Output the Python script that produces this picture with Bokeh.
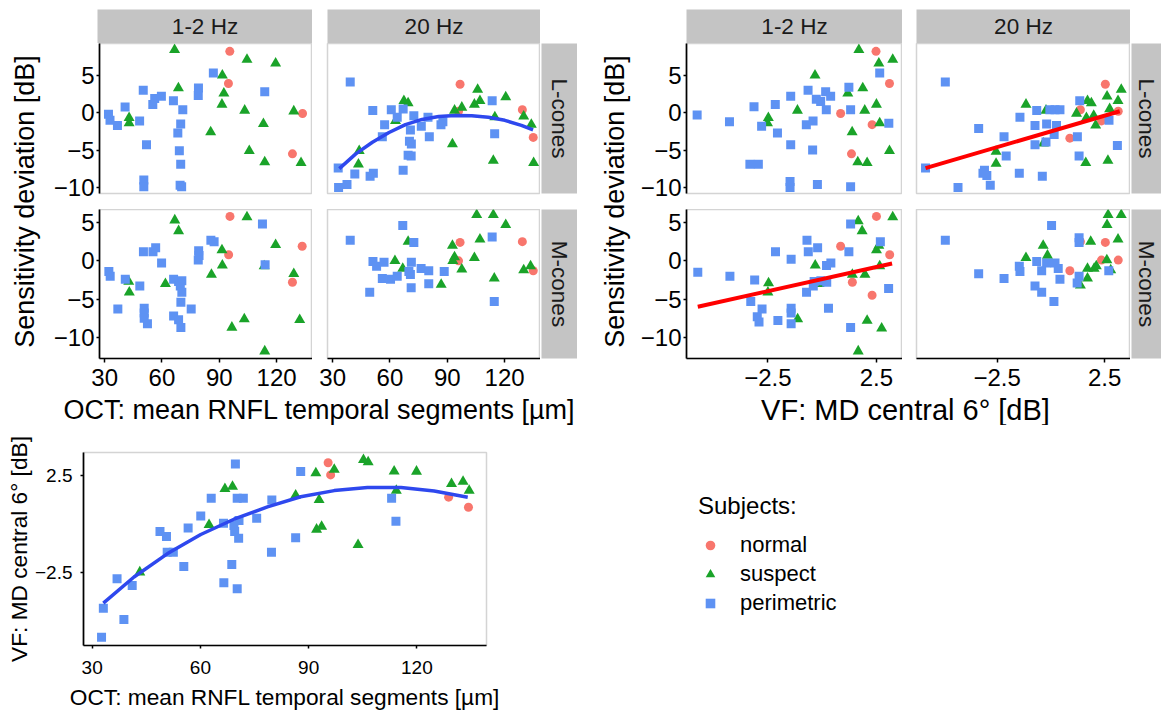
import numpy as np
from bokeh.plotting import figure
from bokeh.layouts import row, column
from bokeh.models import Range1d, FixedTicker, Spacer, Legend, LegendItem
from bokeh.core.properties import value
from bokeh.embed import file_html
from bokeh.resources import INLINE

# ---------------- data ----------------
GROUPS = ["normal", "suspect", "perimetric"]

# OCT (RNFL, µm) vs sensitivity deviation, L-cones 1-2 Hz
oct_L_12 = {
    "normal": ([95.5, 94.8, 133.6, 128.3], [8.2, 3.9, -0.1, -5.5]),
    "suspect": ([66.6, 68.6, 42.8, 42.8, 85.5, 91.6, 92.4, 91.4, 104.5, 119.5, 103.3, 113.1, 105.7, 113.8, 129.0, 132.8],
                [8.4, 3.3, -0.7, -1.4, -2.6, 5.0, 2.6, 1.1, 7.1, 6.6, 0.3, -1.5, -5.1, -6.6, 0.2, -6.7]),
    "perimetric": ([32.0, 32.8, 36.7, 40.7, 48.3, 50.2, 51.9, 50.5, 50.5, 55.2, 56.2, 59.7, 66.0, 70.9, 69.8, 68.3, 69.1, 69.8, 69.5, 70.3, 79.1, 79.0, 86.9, 113.8],
                   [-0.2, -1.0, -1.7, 0.75, -1.1, 3.0, -4.3, -9.0, -9.9, 1.1, 1.9, 2.2, 1.6, 0.4, -1.5, -2.7, -5.1, -6.9, -9.7, -9.9, 3.3, 2.3, 5.3, 2.8]),
}
# L-cones 20 Hz
oct_L_20 = {
    "normal": ([96.7, 95.9, 129.3, 135.0], [3.8, 0.2, 0.4, -3.3]),
    "suspect": ([67.3, 69.5, 62.9, 43.9, 43.5, 92.7, 93.8, 97.6, 105.9, 107.1, 104.2, 120.6, 114.9, 130.0, 134.0, 114.1, 135.2],
                [1.6, 1.3, -1.1, -5.1, -6.9, -4.2, 0.3, 0.7, 3.1, 1.6, 1.1, 2.1, -0.6, -0.5, -1.6, -6.4, -6.7]),
    "perimetric": ([39.2, 32.9, 33.1, 37.5, 41.6, 49.6, 51.3, 51.0, 60.7, 57.2, 56.0, 63.8, 66.9, 72.5, 70.7, 70.2, 71.2, 69.5, 71.1, 66.9, 76.4, 79.9, 80.6, 86.7, 87.7, 113.5, 114.8],
                   [4.1, -7.4, -10.0, -9.6, -8.2, -8.5, -8.1, 0.3, 0.4, -1.6, -3.2, -0.6, 0.5, -0.4, -2.3, -3.8, -4.2, -5.7, -5.8, -7.7, -1.8, -0.6, -3.2, -1.6, -1.2, 1.6, -2.8]),
}
# M-cones 1-2 Hz
oct_M_12 = {
    "normal": ([95.6, 94.9, 133.4, 128.3], [5.8, 0.8, 1.9, -2.8]),
    "suspect": ([66.7, 68.7, 42.6, 42.9, 61.8, 85.9, 91.4, 91.6, 96.6, 104.5, 103.1, 113.5, 119.5, 129.0, 132.1, 113.8],
                [5.3, 3.9, -2.7, -4.1, -3.0, -1.8, 1.4, -0.6, -8.7, 5.7, -7.6, -0.7, 2.1, -1.7, -7.7, -11.8]),
    "perimetric": ([32.2, 32.9, 36.9, 40.8, 48.4, 50.3, 50.7, 50.7, 50.7, 52.4, 55.3, 56.7, 59.8, 66.1, 66.1, 68.7, 69.9, 68.7, 70.4, 69.6, 70.4, 69.9, 75.3, 79.2, 79.4, 79.0, 85.6, 87.3, 112.6, 114.0],
                   [-1.4, -2.0, -6.3, -2.4, -3.3, 1.2, -6.2, -6.8, -7.5, -8.2, 1.2, 1.7, -0.3, -2.4, -7.2, -7.7, -8.7, -2.7, -2.6, -3.3, -4.1, -5.4, -6.3, 1.3, 0.7, 0.1, 2.7, 2.5, 4.8, -0.5]),
}
# M-cones 20 Hz
oct_M_20 = {
    "normal": ([96.7, 95.9, 129.3, 135.0], [2.4, 0.0, 2.5, -1.3]),
    "suspect": ([69.5, 62.6, 66.7, 86.8, 92.7, 93.8, 92.9, 97.6, 104.2, 105.4, 107.1, 114.1, 114.6, 120.6, 130.0, 133.6],
                [2.5, 0.0, -1.0, -3.1, 2.0, 0.5, 0.0, -1.1, 0.4, 6.0, 2.8, 6.0, -2.3, 4.7, -1.2, -0.7]),
    "perimetric": ([39.2, 49.4, 51.1, 53.0, 56.9, 56.0, 60.3, 63.8, 66.7, 72.5, 71.2, 69.9, 70.7, 71.1, 76.3, 80.3, 80.3, 88.4, 113.5, 114.6],
                   [2.7, -4.1, -0.1, -0.7, -0.2, -2.3, -2.4, -2.0, 4.6, 2.4, -0.2, -1.4, -1.8, -3.5, -1.0, -1.3, -3.0, -1.4, 3.1, -5.3]),
}
# VF (MD central 6°, dB) vs sensitivity deviation
md_L_12 = {
    "normal": ([2.48, 3.10, 0.85, 2.30, 1.35], [8.2, 3.9, -0.1, -1.6, -5.5]),
    "suspect": ([1.69, 2.61, 3.25, -0.33, -2.48, -2.52, -1.14, 1.18, 1.87, 2.50, 1.96, 1.38, 2.65, 1.64, 2.07, 3.10],
                [8.4, 6.6, 7.1, 5.0, -0.7, -1.4, 0.3, 2.6, 3.3, 1.1, 0.3, -2.6, -1.4, -6.6, -6.7, -5.1]),
    "perimetric": ([-5.76, -4.27, -3.14, -2.79, -2.16, -2.06, -3.33, -2.94, -1.45, -1.45, -1.48, -1.48, -0.65, -0.73, -0.42, -0.44, -0.22, -0.27, -0.07, 0.16, 0.39, 0.19, 1.23, 1.31, 1.31, 2.65, 3.07],
                   [-0.3, -1.2, 0.8, -1.8, 1.1, -2.7, -6.9, -6.9, 2.2, -4.3, -9.2, -10.0, 3.0, -1.6, -1.1, -5.0, -9.6, 1.8, 1.5, 2.8, 2.2, 0.4, 3.4, 0.4, -9.9, 5.3, -1.4]),
}
md_L_20 = {
    "normal": ([2.53, 1.37, 0.88, 2.35, 3.13], [3.8, 0.4, -3.4, -1.1, 0.2]),
    "suspect": ([-1.16, -2.55, -2.55, -0.35, -0.23, 1.19, 1.70, 1.88, 1.99, 1.65, 2.08, 2.61, 2.73, 3.12, 3.27, 1.62, 2.65],
                [1.1, -5.2, -6.8, -4.1, 0.3, -0.1, 1.6, 1.3, -0.4, -0.7, -1.7, 2.2, 0.5, 1.6, 3.1, -6.7, -6.4]),
    "perimetric": ([-4.91, -5.83, -4.32, -2.82, -3.09, -2.98, -3.16, -3.36, -2.18, -2.08, -1.47, -0.40, -1.44, -0.66, -0.74, -0.74, -0.23, -0.20, -0.05, 0.19, 0.42, 0.15, 0.26, 1.34, 1.23, 1.31, 2.70, 3.09],
                   [4.1, -7.4, -10.0, -9.7, -7.7, -8.4, -8.1, -2.1, -3.2, -5.8, -8.1, -8.5, -0.6, 0.3, -1.7, -4.3, -3.9, -1.5, 0.4, 0.4, 0.4, -2.9, -1.7, 1.6, -3.2, -5.8, -1.0, -4.4]),
}
md_M_12 = {
    "normal": ([2.50, 0.85, 1.39, 2.30, 3.11], [5.8, 1.9, -2.8, -4.5, 0.8]),
    "suspect": ([1.66, 1.84, -2.47, -2.50, -1.13, -0.32, -0.14, 1.39, 1.97, 2.50, 2.61, 2.65, 2.07, 2.74, 1.66, 3.25],
                [5.2, 3.9, -2.9, -4.1, -7.6, -0.6, -3.0, -1.8, -1.8, 1.4, 2.0, -0.7, -7.8, -8.8, -11.8, 5.7]),
    "perimetric": ([-5.73, -4.25, -3.11, -3.29, -2.99, -2.91, -2.77, -2.15, -2.04, -1.43, -1.43, -1.43, -1.43, -0.70, -0.64, -0.21, -0.72, -0.41, -0.37, -0.06, 0.21, 0.20, 0.40, 0.29, 1.23, 1.31, 1.31, 2.68, 3.06],
                   [-1.5, -2.0, -2.5, -5.3, -7.3, -8.0, -6.3, 1.2, -7.8, 0.2, -6.2, -6.8, -8.2, 2.7, 1.2, 1.7, -4.1, -3.3, -2.7, -2.6, -2.8, -0.6, -0.3, -6.2, 1.2, 4.8, -8.7, 2.5, -3.6]),
}
md_M_20 = {
    "normal": ([0.88, 1.37, 2.35, 2.53, 3.13], [-1.3, 2.5, 0.1, 2.4, 0.1]),
    "suspect": ([-1.16, -0.36, -0.16, 1.37, 1.70, 1.70, 1.85, 2.01, 2.11, 2.61, 2.66, 2.60, 2.78, 3.12, 3.27],
                [0.4, 2.0, 0.7, -3.2, -1.0, -2.3, 2.5, -1.0, -0.7, 4.7, 6.0, 0.1, -1.2, 2.8, 6.0]),
    "perimetric": ([-4.91, -3.36, -2.18, -1.47, -1.44, -0.66, -0.74, -0.43, -0.43, -0.20, 0.03, 0.19, 0.34, 0.14, 0.42, 1.31, 1.31, 1.31, 1.22, 2.69],
                   [2.7, -1.7, -2.3, -0.7, -1.4, -0.1, -3.3, -4.1, -1.3, -0.3, 4.6, -0.3, -1.0, -5.3, -2.4, 3.0, 2.4, -2.0, -2.9, -1.3]),
}
# OCT vs VF
oct_md = {
    "normal": ([95.4, 96.1, 128.8, 134.3], [3.16, 2.53, 1.38, 0.86]),
    "suspect": ([43.2, 62.4, 66.8, 68.9, 86.4, 92.0, 92.9, 92.2, 93.6, 97.1, 103.7, 105.2, 106.5, 113.7, 114.3, 119.9, 129.6, 132.8, 134.5],
                [-2.5, -0.05, 1.81, 1.93, 1.47, 2.62, 1.24, -0.29, -0.14, 2.81, -1.09, 3.31, 3.19, 2.72, 1.72, 2.71, 2.07, 2.19, 1.72]),
    "perimetric": ([32.6, 33.1, 36.9, 38.8, 41.1, 48.8, 50.6, 50.8, 52.5, 55.4, 56.6, 60.1, 63.0, 66.4, 66.5, 68.7, 69.3, 69.5, 70.6, 70.7, 69.7, 70.2, 71.9, 70.2, 75.6, 79.8, 79.7, 86.4, 87.8, 113.0, 114.2],
                   [-5.86, -4.36, -2.84, -4.95, -3.19, -0.40, -0.66, -1.47, -1.47, -2.21, -0.22, 0.40, 1.33, 0.03, -3.05, -2.10, -0.09, -0.40, -0.74, 0.17, 3.10, 1.33, 1.33, -3.36, 0.29, 1.24, -1.47, -0.72, 2.71, 1.33, 0.14]),
}

# fitted curves / lines
fit_oct_L20_x = [33.5, 42.1, 50.8, 59.5, 68.1, 76.8, 85.5, 94.1, 102.8, 111.5, 120.1, 128.8, 134.9]
fit_oct_L20_y = [-7.47, -5.5, -3.95, -2.65, -1.6, -0.9, -0.5, -0.36, -0.4, -0.6, -1.02, -1.69, -2.3]
fit_md_L20_x = [-5.83, 3.2]
fit_md_L20_y = [-7.4, 0.2]
fit_md_M12_x = [-5.73, 3.22]
fit_md_M12_y = [-6.0, -0.35]
fit_oct_md_x = [33.1, 41.6, 50.8, 60.1, 69.3, 78.6, 87.8, 97.1, 106.3, 115.6, 124.8, 134.1]
fit_oct_md_y = [-4.1, -2.75, -1.55, -0.55, 0.24, 0.88, 1.4, 1.72, 1.88, 1.88, 1.7, 1.38]

x_ticks_oct = [30, 60, 90, 120]
x_ticks_md = [-2.5, 2.5]
y_ticks_sens = [-10, -5, 0, 5]
y_ticks_md = [-2.5, 2.5]
tick_text = {-10: "\u221210", -5: "\u22125", -2.5: "\u22122.5"}
strip_cols = ["1-2 Hz", "20 Hz"]
strip_rows = ["L-cones", "M-cones"]
legend_labels = ["normal", "suspect", "perimetric"]

# ---------------- style ----------------
FONT = "Liberation Sans"
COLORS = {"normal": "#F8766D", "suspect": "#1AA329", "perimetric": "#5E92F3"}
MARKERS = {"normal": "circle", "suspect": "triangle", "perimetric": "square"}
SIZES = {"normal": 9, "suspect": 11, "perimetric": 9}
STRIP = "#C4C4C4"
BORDER = "#D4D4D4"
BLUE_FIT = "#2E48EE"
RED_FIT = "#FF0000"
TICK_TOP = "24px"
TITLE_TOP = "27px"

RX_OCT = (27.3, 138.8)
RX_MD = (-6.25, 3.7)
RY_L = (-10.8, 9.25)
RY_M = (-12.75, 6.7)


def base_fig(w, h, xr, yr, left=False, bottom=False):
    p = figure(width=w, height=h, x_range=Range1d(*xr), y_range=Range1d(*yr),
               x_axis_location="below" if bottom else None,
               y_axis_location="left" if left else None,
               output_backend="svg", toolbar_location=None, min_border=0)
    p.background_fill_color = "white"
    p.border_fill_color = "white"
    p.xgrid.visible = False
    p.ygrid.visible = False
    return p


def style_axis(ax, ticks, standoff, tick_out=4, size=TICK_TOP):
    ax.ticker = FixedTicker(ticks=ticks)
    ax.major_label_overrides = {k: v for k, v in tick_text.items() if k in ticks}
    ax.axis_line_color = "black"
    ax.axis_line_width = 1.7
    ax.major_tick_line_color = "black"
    ax.major_tick_line_width = 1.5
    ax.major_tick_out = tick_out
    ax.major_tick_in = 0
    ax.minor_tick_line_color = None
    ax.major_label_text_font = FONT
    ax.major_label_text_font_size = size
    ax.major_label_text_color = "black"
    ax.major_label_standoff = standoff


def panel(data, w, h, xr, yr, mbl, mbb, left, bottom, xticks, yticks):
    p = base_fig(w, h, xr, yr, left, bottom)
    p.min_border_left = mbl
    p.min_border_bottom = mbb
    p.outline_line_color = BORDER
    p.outline_line_width = 1.5
    for g in GROUPS:
        xs, ys = data[g]
        p.scatter(x=xs, y=ys, marker=MARKERS[g], size=SIZES[g],
                  fill_color=COLORS[g], line_color=None)
    if left:
        style_axis(p.yaxis[0], yticks, standoff=2, tick_out=3)
    if bottom:
        style_axis(p.xaxis[0], xticks, standoff=6, tick_out=4)
    return p


def strip(w, h, text, vertical=False, mbl=0, mbb=0, mbt=0):
    s = base_fig(w, h, (0, 1), (0, 1))
    s.min_border_left = mbl
    s.min_border_bottom = mbb
    s.min_border_top = mbt
    s.background_fill_color = STRIP
    s.outline_line_color = None
    s.text(x=[0.5], y=[0.5], text=[text], angle=-np.pi / 2 if vertical else 0,
           text_align="center", text_baseline="middle",
           text_font=value(FONT), text_font_size="22.5px", text_color="#1A1A1A")
    return s


def text_fig(w, h, text, cx, cy, angle=0.0, size=TITLE_TOP):
    f = base_fig(w, h, (0, w), (0, h))
    f.outline_line_color = None
    f.text(x=[cx], y=[h - cy], text=[text], angle=angle, text_align="center",
           text_baseline="middle", text_font=value(FONT), text_font_size=size,
           text_color="black")
    return f


# ---------------- left block (OCT) ----------------
L1 = panel(oct_L_12, 262, 166, RX_OCT, RY_L, 47, 16, True, False, x_ticks_oct, y_ticks_sens)
L2 = panel(oct_L_20, 228, 166, RX_OCT, RY_L, 15, 16, False, False, x_ticks_oct, y_ticks_sens)
L2.line(fit_oct_L20_x, fit_oct_L20_y, line_color=BLUE_FIT, line_width=3.5)
M1 = panel(oct_M_12, 262, 186, RX_OCT, RY_M, 47, 37, True, True, x_ticks_oct, y_ticks_sens)
M2 = panel(oct_M_20, 228, 186, RX_OCT, RY_M, 15, 37, False, True, x_ticks_oct, y_ticks_sens)

left_block = row(
    text_fig(50, 425, "Sensitivity deviation [dB]", 24, 201, angle=np.pi / 2),
    column(
        row(Spacer(width=47, height=43), strip(215, 43, strip_cols[0], mbt=9),
            strip(228, 43, strip_cols[1], mbl=15, mbt=9), Spacer(width=37, height=43)),
        row(L1, L2, strip(37, 166, strip_rows[0], vertical=True, mbl=1, mbb=16)),
        row(M1, M2, strip(37, 186, strip_rows[1], vertical=True, mbl=1, mbb=37)),
        text_fig(527, 30, "OCT: mean RNFL temporal segments [µm]", 269, 14),
    ),
)

# ---------------- right block (VF) ----------------
L3 = panel(md_L_12, 265, 166, RX_MD, RY_L, 49, 16, True, False, x_ticks_md, y_ticks_sens)
L4 = panel(md_L_20, 228, 166, RX_MD, RY_L, 14, 16, False, False, x_ticks_md, y_ticks_sens)
L4.line(fit_md_L20_x, fit_md_L20_y, line_color=RED_FIT, line_width=4)
M3 = panel(md_M_12, 265, 186, RX_MD, RY_M, 49, 37, True, True, x_ticks_md, y_ticks_sens)
M3.line(fit_md_M12_x, fit_md_M12_y, line_color=RED_FIT, line_width=4)
M4 = panel(md_M_20, 228, 186, RX_MD, RY_M, 14, 37, False, True, x_ticks_md, y_ticks_sens)

right_block = row(
    text_fig(60, 425, "Sensitivity deviation [dB]", 37, 201, angle=np.pi / 2),
    column(
        row(Spacer(width=49, height=43), strip(216, 43, strip_cols[0], mbt=9),
            strip(228, 43, strip_cols[1], mbl=14, mbt=9), Spacer(width=31, height=43)),
        row(L3, L4, strip(31, 166, strip_rows[0], vertical=True, mbl=1, mbb=16)),
        row(M3, M4, strip(31, 186, strip_rows[1], vertical=True, mbl=1, mbb=37)),
        text_fig(524, 30, "VF: MD central 6° [dB]", 268, 14, size="29px"),
    ),
)

# ---------------- bottom panel ----------------
B = base_fig(526, 288, (27.6, 139.3), (-6.29, 3.69), left=True, bottom=True)
B.min_border_left = 83
B.min_border_bottom = 68
B.min_border_top = 27
B.min_border_right = 40
B.outline_line_color = BORDER
B.outline_line_width = 1.5
for g in GROUPS:
    xs, ys = oct_md[g]
    B.scatter(x=xs, y=ys, marker=MARKERS[g], size=SIZES[g], fill_color=COLORS[g], line_color=None)
B.line(fit_oct_md_x, fit_oct_md_y, line_color=BLUE_FIT, line_width=3.5)
style_axis(B.xaxis[0], x_ticks_oct, standoff=12, tick_out=3, size="19px")
style_axis(B.yaxis[0], y_ticks_md, standoff=8, tick_out=3, size="19px")
for ax, lab in ((B.xaxis[0], "OCT: mean RNFL temporal segments [µm]"), (B.yaxis[0], "VF: MD central 6° [dB]")):
    ax.axis_label = lab
    ax.axis_label_text_font = FONT
    ax.axis_label_text_font_size = "22.7px"
    ax.axis_label_text_font_style = "normal"
    ax.axis_label_text_color = "black"
B.xaxis[0].axis_label_standoff = 7
B.yaxis[0].axis_label_standoff = 0

# ---------------- legend (key renderers hold no visible point) ----------------
LG = base_fig(635, 288, (0, 1), (0, 1))
LG.outline_line_color = None
items = []
for g, lab in zip(GROUPS, legend_labels):
    r = LG.scatter(x=[np.nan], y=[np.nan], marker=MARKERS[g], size=SIZES[g],
                   fill_color=COLORS[g], line_color=None)
    items.append(LegendItem(label=lab, renderers=[r]))
# location = bottom-left corner of the legend box, in pixels from the (row-aligned) frame's bottom-left
legend = Legend(items=items, location=(172, 29), title="Subjects:")
legend.title_text_font = FONT
legend.title_text_font_size = "24px"
legend.title_text_font_style = "normal"
legend.title_text_color = "black"
legend.title_standoff = 12
legend.label_text_font = FONT
legend.label_text_font_size = "22px"
legend.label_text_color = "black"
legend.glyph_width = 24
legend.glyph_height = 24
legend.label_height = 24
legend.label_standoff = 18
legend.spacing = 3
legend.padding = 0
legend.margin = 0
legend.border_line_color = None
legend.background_fill_alpha = 0
LG.add_layout(legend)

layout = column(row(left_block, right_block), row(B, LG))

open("out.html", "w").write(file_html(layout, INLINE))
